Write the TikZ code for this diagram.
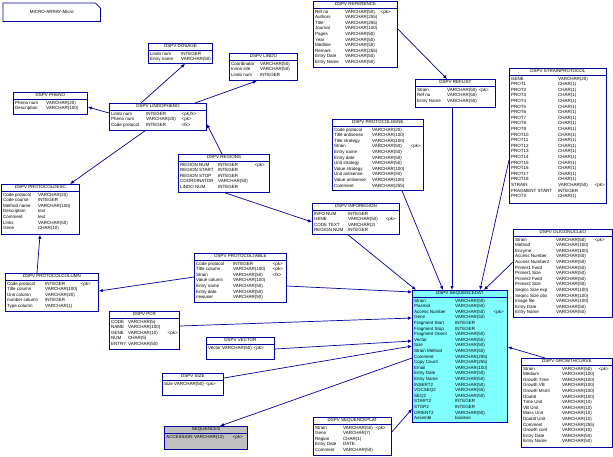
\documentclass[tikz,border=0pt]{standalone}
\usepackage{fontspec}
\setmainfont{Liberation Sans}
\usepackage{tikz}
\usetikzlibrary{arrows.meta}
\definecolor{entblue}{RGB}{0,0,160}
\definecolor{seqcyan}{RGB}{128,255,255}
\definecolor{seqgrey}{RGB}{192,192,192}
\setlength{\tabcolsep}{0pt}
\tikzset{
  tbl/.style={draw=entblue, line width=0.8pt, fill=white, inner sep=0pt, anchor=north west},
  tbltitle/.style={anchor=north, inner sep=1.2pt, font=\fontsize{4.5}{5.6}\selectfont},
  tblline/.style={draw=entblue, line width=0.7pt},
  tblrows/.style={anchor=north west, inner sep=0pt, font=\fontsize{4.5}{5.6}\selectfont},
  rel/.style={draw=entblue, line width=0.7pt, -{Latex[length=4pt,width=3.5pt]}}
}
% name, x/y, width, height, title, col widths, rows, extra style
\newcommand{\dbtable}[9]{%
  \node[tbl, minimum width=#3pt, minimum height=#4pt, #9] (#1) at (#2) {};
  \node[tbltitle] at (#1.north) {#5};
  \draw[tblline] ([yshift=-7pt]#1.north west) -- ([yshift=-7pt]#1.north east);
  \node[tblrows] at ([shift={(2pt,-8pt)}]#1.north west)
    {\begin{tabular}{@{}p{#6pt}p{#7pt}@{\hspace{1.5pt}}l@{}}#8\end{tabular}};}
\begin{document}
\begin{tikzpicture}[x=1pt,y=-1pt]
  \fill[white] (0,0) rectangle (613,456);
  \useasboundingbox (0,0) rectangle (613,456);

  % note
  \node[minimum width=97pt, minimum height=18pt, inner sep=0pt, anchor=north west,
        font=\fontsize{4.5}{5.6}\selectfont] (note) at (3,3) {MICRO-ARRAY-Micro};
  \draw[entblue, line width=0.7pt] (note.south west) -- (note.north west)
    -- ([xshift=-5pt]note.north east) -- ([yshift=-5pt]note.north east)
    -- (note.south east) -- cycle;

  % tables
  \dbtable{dosage}{148,43}{64}{20}{DSPV DOSAGE}{31}{30}{%
    Lindo num & INTEGER & \\ Entry name & VARCHAR(50) & \\}{}
  \dbtable{lindo}{229,53}{68}{27}{DSPV LINDO}{29}{36}{%
    Coordinator & VARCHAR(50) & \\ Irvine site & VARCHAR(50) & \\ Lindo num & INTEGER & \\}{}
  \dbtable{pheno}{13,92}{74}{22}{DSPV PHENO}{31}{40}{%
    Pheno num & VARCHAR(20) & \\ Description & VARCHAR(100) & \\}{}
  \dbtable{lindopheno}{109,103}{97}{27}{DSPV LINDOPHENO}{35}{34}{%
    Lindo num & INTEGER & <pk,fk> \\ Pheno num & VARCHAR(20) & <pk> \\
    Code protocol & INTEGER & <fk> \\}{}
  \dbtable{regions}{178,154}{91}{38}{DSPV REGIONS}{38}{35}{%
    REGION NUM & INTEGER & <pk> \\ REGION START & INTEGER & \\
    REGION STOP & INTEGER & \\ COORDINATOR & VARCHAR(50) & \\
    LINDO NUM & INTEGER & \\}{}
  \dbtable{protdesc}{1,184}{78}{50}{DSPV PROTOCOLDESC}{35}{40}{%
    Code protocol & VARCHAR(20) & \\ Code course & INTEGER & \\
    Method name & VARCHAR(100) & \\ Description & text & \\
    Comment & text & \\ Links & VARCHAR(50) & \\ Gene & CHAR(10) & \\}{}
  \dbtable{protcol}{5,273}{93}{38}{DSPV PROTOCOLCOLUMN}{38}{34}{%
    Code protocol & INTEGER & <pk> \\ Title column & VARCHAR(100) & \\
    Unit column & VARCHAR(20) & \\ number column & INTEGER & \\
    Type column & VARCHAR(1) & \\}{}
  \dbtable{prottable}{194,253}{92}{49}{DSPV PROTOCOLTABLE}{37}{38}{%
    Code protocol & INTEGER & <pk> \\ Title column & VARCHAR(100) & <pk> \\
    Strain & VARCHAR(50) & <fk> \\ Value column & VARCHAR(100) & \\
    Entry name & VARCHAR(50) & \\ Entry date & VARCHAR(50) & \\
    newuser & VARCHAR(50) & \\}{}
  \dbtable{pcr}{109,311}{70}{38}{DSPV PCR}{17}{38}{%
    CODE & VARCHAR(5) & \\ NAME & VARCHAR(100) & \\ GENE & VARCHAR(10) & <pk> \\
    NUM & CHAR(5) & \\ ENTRY & VARCHAR(50) & \\}{}
  \dbtable{vector}{206,337}{68}{22}{DSPV VECTOR}{14}{30}{%
    Vector & VARCHAR(50) & <pk> \\}{}
  \dbtable{size}{162,373}{61}{22}{DSPV SIZE}{10}{30}{%
    Size & VARCHAR(50) & <pk> \\}{}
  \dbtable{accession}{164,426}{83}{23}{SEQUENCES}{28}{37}{%
    ACCESSION & VARCHAR(12) & <pk> \\}{fill=seqgrey}
  \dbtable{seqplat}{313,417}{78}{38}{DSPV SEQUENCEPLAT}{28}{31}{%
    Strain & VARCHAR(50) & <pk> \\ Gene & VARCHAR(7) & \\ Region & CHAR(1) & \\
    Entry Date & DATE & \\ Comment & VARCHAR(50) & \\}{}
  \dbtable{seqdat}{412,290}{95}{132}{DSPV SEQUENCEDAT}{41}{37}{%
    Strain & VARCHAR(50) & \\ Plasmid & VARCHAR(50) & \\
    Access Number & VARCHAR(50) & <pk> \\ Gene & VARCHAR(50) & \\
    Fragment Start & INTEGER & \\ Fragment Stop & INTEGER & \\
    Fragment Orient & VARCHAR(50) & \\ Vector & VARCHAR(50) & \\
    Size & VARCHAR(50) & \\ Strain Method & VARCHAR(50) & \\
    Comment & VARCHAR(255) & \\ Copy Count & VARCHAR(255) & \\
    Email & VARCHAR(100) & \\ Entry Date & VARCHAR(50) & \\
    Entry Name & VARCHAR(50) & \\ INSERT2 & VARCHAR(50) & \\
    VOCSEQ2 & VARCHAR(50) & \\ SEQ2 & VARCHAR(50) & \\
    START2 & INTEGER & \\ STOP2 & INTEGER & \\
    ORIENT2 & VARCHAR(50) & \\ Assembl & boolean & \\}{fill=seqcyan}
  \dbtable{oligo}{513,229}{99}{88}{DSPV OLIGONUCLEO}{41}{37}{%
    Strain & VARCHAR(50) & <pk> \\ Method & VARCHAR(100) & \\
    Enzyme & VARCHAR(100) & \\ Access Number & VARCHAR(50) & \\
    Access Number2 & VARCHAR(50) & \\ Primer1 Fwrd & VARCHAR(50) & \\
    Primer1 Size & VARCHAR(50) & \\ Primer2 Fwrd & VARCHAR(50) & \\
    Primer2 Size & VARCHAR(50) & \\ Seqinc Size exp & VARCHAR(100) & \\
    Seqinc Size obs & VARCHAR(100) & \\ Image file & VARCHAR(100) & \\
    Entry Date & VARCHAR(50) & \\ Entry Name & VARCHAR(50) & \\}{}
  \dbtable{growth}{521,358}{91}{89}{DSPV GROWTHCURVE}{39}{35}{%
    Strain & VARCHAR(50) & <pk> \\ Medium & VARCHAR(100) & \\
    Growth Time & VARCHAR(100) & \\ Growth VB & VARCHAR(100) & \\
    Growth Msmt & VARCHAR(100) & \\ Doublt & VARCHAR(100) & \\
    Time Unit & VARCHAR(10) & \\ VB Unit & VARCHAR(10) & \\
    Mass Unit & VARCHAR(10) & \\ Doublt Unit & VARCHAR(10) & \\
    Comment & VARCHAR(255) & \\ Growth conf & VARCHAR(10) & \\
    Entry Date & VARCHAR(50) & \\ Entry Name & VARCHAR(50) & \\}{}
  \dbtable{reference}{313,1}{84}{66}{DSPV REFERENCE}{30}{34}{%
    Ref no & VARCHAR(50) & <pk> \\ Authors & VARCHAR(255) & \\
    Title & VARCHAR(255) & \\ Journal & VARCHAR(100) & \\
    Pages & VARCHAR(50) & \\ Year & VARCHAR(50) & \\
    Medline & VARCHAR(50) & \\ Remark & VARCHAR(255) & \\
    Entry Date & VARCHAR(50) & \\ Entry Name & VARCHAR(50) & \\}{}
  \dbtable{reflist}{415,79}{80}{28}{DSPV REFLIST}{30}{30}{%
    Strain & VARCHAR(50) & <pk> \\ Ref no & VARCHAR(50) & \\
    Entry Name & VARCHAR(50) & \\}{}
  \dbtable{strainprot}{509,68}{97}{135}{DSPV STRAINPROTOCOL}{47}{35}{%
    GENE & VARCHAR(20) & \\ PROT1 & CHAR(1) & \\ PROT2 & CHAR(1) & \\
    PROT3 & CHAR(1) & \\ PROT4 & CHAR(1) & \\ PROT5 & CHAR(1) & \\
    PROT6 & CHAR(1) & \\ PROT7 & CHAR(1) & \\ PROT8 & CHAR(1) & \\
    PROT9 & CHAR(1) & \\ PROT10 & CHAR(1) & \\ PROT11 & CHAR(1) & \\
    PROT12 & CHAR(1) & \\ PROT13 & CHAR(1) & \\ PROT14 & CHAR(1) & \\
    PROT15 & CHAR(1) & \\ PROT16 & CHAR(1) & \\ PROT17 & CHAR(1) & \\
    PROT18 & CHAR(1) & \\ STRAIN & VARCHAR(50) & <pk> \\
    FRAGMENT START & INTEGER & \\ PROTX & CHAR(1) & \\}{}
  \dbtable{protgene}{332,119}{91}{71}{DSPV PROTOCOLGENE}{38}{37}{%
    Code protocol & VARCHAR(20) & \\ Title antisense & VARCHAR(100) & \\
    Title strategy & VARCHAR(100) & \\ Strain & VARCHAR(50) & <pk> \\
    Entry name & VARCHAR(50) & \\ Entry date & VARCHAR(50) & \\
    Unit strategy & VARCHAR(50) & \\ Value strategy & VARCHAR(100) & \\
    Unit antisense & VARCHAR(50) & \\ Value antisense & VARCHAR(100) & \\
    Comment & VARCHAR(255) & \\}{}
  \dbtable{inforegion}{312,203}{87}{31}{DSPV INFOREGION}{34}{36}{%
    INFO NUM & INTEGER & \\ GENE & VARCHAR(50) & <pk> \\
    CODE TEXT & VARCHAR(2) & \\ REGION NUM & INTEGER & \\}{}

  % references
  \draw[rel] ([shift={(32,0)}]lindopheno.north west) -- ([shift={(37,0)}]dosage.south west);
  \draw[rel] ([shift={(86,0)}]lindopheno.north west) -- ([shift={(28,0)}]lindo.south west);
  \draw[rel] ([shift={(0,10)}]lindopheno.north west) -- ([shift={(0,15)}]pheno.north east);
  \draw[rel] ([shift={(44,0)}]regions.north west) -- ([shift={(0,21)}]lindopheno.north east);
  \draw[rel] ([shift={(36,0)}]lindopheno.south west) -- ([shift={(69,0)}]protdesc.north west);
  \draw[rel] ([shift={(32,0)}]protcol.north west) -- ([shift={(39,0)}]protdesc.south west);
  \draw[rel] ([shift={(0,24)}]prottable.north west) -- ([shift={(0,18)}]protcol.north east);
  \draw[rel] ([shift={(0,33)}]prottable.north east) -- ([shift={(0,2)}]seqdat.north west);
  \draw[rel] ([shift={(0,15)}]pcr.north east) -- ([shift={(0,28)}]seqdat.north west);
  \draw[rel] ([shift={(0,12)}]vector.north east) -- ([shift={(0,51)}]seqdat.north west);
  \draw[rel] ([shift={(0,5)}]size.north east) -- ([shift={(0,56)}]seqdat.north west);
  \draw[rel] ([shift={(0,68)}]seqdat.north west) -- ([shift={(56,0)}]accession.north west);
  \draw[rel] ([shift={(0,15)}]seqplat.north east) -- ([shift={(0,119)}]seqdat.north west);
  \draw[rel] ([shift={(24,0)}]growth.north west) -- ([shift={(0,57)}]seqdat.north east);
  \draw[rel] ([shift={(0,33)}]oligo.north west) -- ([shift={(72,0)}]seqdat.north west);
  \draw[rel] ([shift={(0,92)}]strainprot.north west) -- ([shift={(68,0)}]seqdat.north west);
  \draw[rel] ([shift={(37,0)}]reflist.south west) -- ([shift={(40,0)}]seqdat.north west);
  \draw[rel] ([shift={(70,0)}]protgene.south west) -- ([shift={(31,0)}]seqdat.north west);
  \draw[rel] ([shift={(36,0)}]inforegion.south west) -- ([shift={(4,0)}]seqdat.north west);
  \draw[rel] ([shift={(47,0)}]regions.south west) -- ([shift={(0,19)}]inforegion.north west);
  \draw[rel] ([shift={(0,28)}]reference.north east) -- ([shift={(32,0)}]reflist.north west);
\end{tikzpicture}
\end{document}
